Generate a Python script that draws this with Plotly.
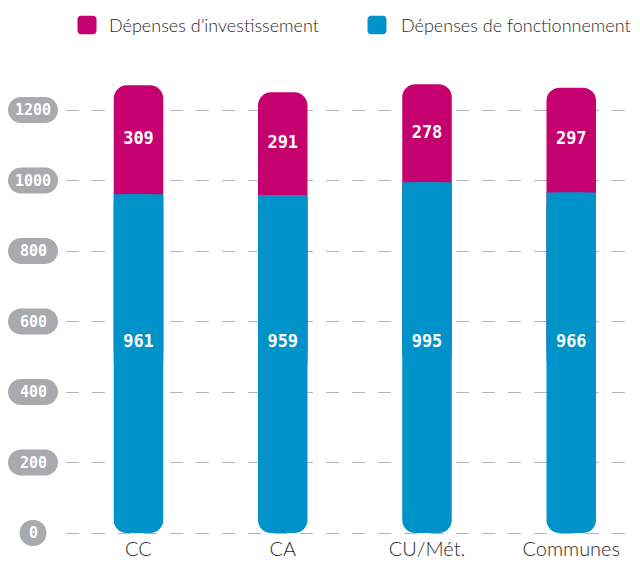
import plotly.graph_objects as go

categories = ["CC", "CA", "CU/Mét.", "Communes"]
fonctionnement = [961, 959, 995, 966]
investissement = [309, 291, 278, 297]
y_ticks = [0, 200, 400, 600, 800, 1000, 1200]
legend_labels = ["Dépenses d’investissement", "Dépenses de fonctionnement"]

PINK = "#c5006f"
BLUE = "#0093c9"
GREY = "#a9aaad"
TXT = "#2a2a2a"
OFF = 8  # page body margin
W, H = 640 - OFF, 563 - OFF
# screen-space geometry
PLOT_L, PLOT_R, PLOT_T, PLOT_B = 66, 640, 70, 536
ML, MR, MT, MB = PLOT_L - OFF, W - (PLOT_R - OFF), PLOT_T - OFF, H - (PLOT_B - OFF)
PW, PH = PLOT_R - PLOT_L, PLOT_B - PLOT_T
ZERO_PX = 533
SCALE = 0.3525  # px per unit
ymin = -(PLOT_B - ZERO_PX) / SCALE
ymax = (ZERO_PX - PLOT_T) / SCALE
CAT_PX = 144.25
FIRST_C = 138.5
xmin = -(FIRST_C - PLOT_L) / CAT_PX
xmax = xmin + PW / CAT_PX
BAR_W = 49.5 / CAT_PX
LABEL_Y = 540

NUM_FONT = "DejaVu Sans Mono, monospace"
TXT_FONT = "Lato, sans-serif"


def px_x(p):
    return (p - PLOT_L) / PW


def px_y(p):
    return (PLOT_B - p) / PH


def val_to_paper(v):
    return (v - ymin) / (ymax - ymin)


def rrect(w, h, r):
    k = 0.5523 * r
    x0, x1, y0, y1 = -w / 2, w / 2, -h / 2, h / 2
    return (f"M {x0+r},{y0} L {x1-r},{y0} C {x1-r+k},{y0} {x1},{y0+r-k} {x1},{y0+r} "
            f"L {x1},{y1-r} C {x1},{y1-r+k} {x1-r+k},{y1} {x1-r},{y1} "
            f"L {x0+r},{y1} C {x0+r-k},{y1} {x0},{y1-r+k} {x0},{y1-r} "
            f"L {x0},{y0+r} C {x0},{y0+r-k} {x0+r-k},{y0} {x0+r},{y0} Z")


totals = [f + i for f, i in zip(fonctionnement, investissement)]
half = [f / 2 for f in fonctionnement]

fig = go.Figure()
# pink segment (rounded top); its lower end is hidden under the blue segment
fig.add_trace(go.Bar(
    x=categories, y=[t - b for t, b in zip(totals, half)], base=half,
    marker=dict(color=PINK, cornerradius=13, line=dict(width=0)),
    width=BAR_W, hoverinfo="skip", showlegend=False,
))
# blue segment with rounded bottom
fig.add_trace(go.Bar(
    x=categories, y=[-v for v in fonctionnement], base=fonctionnement,
    marker=dict(color=BLUE, cornerradius=13, line=dict(width=0)),
    width=BAR_W, hoverinfo="skip", showlegend=False,
))
# square upper part of the blue segment (flat boundary with pink)
fig.add_trace(go.Bar(
    x=categories, y=half, base=half,
    marker=dict(color=BLUE, cornerradius=0, line=dict(width=0)),
    width=BAR_W, hoverinfo="skip", showlegend=False,
))
fig.add_trace(go.Scatter(
    x=categories, y=[f + i / 2 for f, i in zip(fonctionnement, investissement)], mode="text",
    text=[str(v) for v in investissement],
    textfont=dict(family=NUM_FONT, size=17, color="white", weight="bold"),
    hoverinfo="skip", showlegend=False,
))
fig.add_trace(go.Scatter(
    x=categories, y=[LABEL_Y] * len(categories), mode="text",
    text=[str(v) for v in fonctionnement],
    textfont=dict(family=NUM_FONT, size=17, color="white", weight="bold"),
    hoverinfo="skip", showlegend=False,
))

shapes = []
annotations = []
pill_x = px_x(33)
for t in y_ticks:
    w = 27 if t == 0 else 50
    shapes.append(dict(type="path", xref="paper", yref="paper", xsizemode="pixel", ysizemode="pixel",
                       xanchor=pill_x, yanchor=val_to_paper(t), path=rrect(w, 26, 13),
                       fillcolor=GREY, line=dict(width=0), layer="above"))
    annotations.append(dict(x=pill_x, y=val_to_paper(t), xref="paper", yref="paper", text=str(t),
                            showarrow=False,
                            font=dict(family=NUM_FONT, size=15, color="white", weight="bold"),
                            xanchor="center", yanchor="middle"))

# legend
leg_y = px_y(25)
for color, lab, sq_px, tx_px in [(PINK, legend_labels[0], 87, 107), (BLUE, legend_labels[1], 377, 399)]:
    shapes.append(dict(type="path", xref="paper", yref="paper", xsizemode="pixel", ysizemode="pixel",
                       xanchor=px_x(sq_px), yanchor=leg_y, path=rrect(19, 18.5, 3.5),
                       fillcolor=color, line=dict(width=0)))
    annotations.append(dict(x=px_x(tx_px), y=leg_y, xref="paper", yref="paper", text=lab,
                            showarrow=False, xanchor="left", yanchor="middle",
                            font=dict(family=TXT_FONT, size=18, color=TXT, weight=300)))

fig.update_layout(
    width=W, height=H, margin=dict(l=ML, r=MR, t=MT, b=MB),
    paper_bgcolor="white", plot_bgcolor="white",
    barmode="overlay", shapes=shapes, annotations=annotations,
    xaxis=dict(range=[xmin, xmax], showgrid=False, zeroline=False, showline=False,
               ticks="", tickfont=dict(family=TXT_FONT, size=20, color=TXT, weight=300),
               ticklabelstandoff=-1),
    yaxis=dict(range=[ymin, ymax], tickvals=y_ticks, showticklabels=False, zeroline=False,
               showline=False, showgrid=True, gridcolor="#b5b5b5", gridwidth=1.3,
               griddash="13px,13px"),
)
fig.write_html("out.html")
